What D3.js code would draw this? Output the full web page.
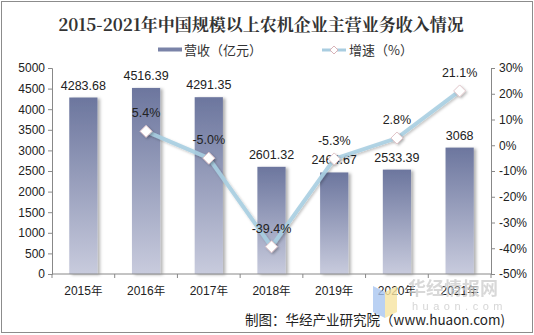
<!DOCTYPE html>
<html><head><meta charset="utf-8">
<script src="https://cdn.jsdelivr.net/npm/d3@7"></script>
<style>body{margin:0;background:#fff}svg{display:block}</style>
</head><body>
<svg id="c" width="534" height="335"></svg>
<script>
const years = ["2015年","2016年","2017年","2018年","2019年","2020年","2021年"];
const revenue = [4283.68, 4516.39, 4291.35, 2601.32, 2464.67, 2533.39, 3068];
const revenueLabels = ["4283.68","4516.39","4291.35","2601.32","2464.67","2533.39","3068"];
const growth = [null, 5.4, -5.0, -39.4, -5.3, 2.8, 21.1];
const growthLabels = ["", "5.4%", "-5.0%", "-39.4%", "-5.3%", "2.8%", "21.1%"];
const leftTicks = [0,500,1000,1500,2000,2500,3000,3500,4000,4500,5000];
const rightTicks = [-50,-40,-30,-20,-10,0,10,20,30];

const svg = d3.select("#c");
const font = "'Liberation Sans', Arial, sans-serif";
const cjk = "'Noto Sans CJK SC', sans-serif";
const L = 52, R = 491, T = 68, B = 274;

const defs = svg.append("defs");
const g = defs.append("linearGradient").attr("id","bg").attr("x1",0).attr("y1",0).attr("x2",0).attr("y2",1);
g.append("stop").attr("offset","0%").attr("stop-color","#6c769e");
g.append("stop").attr("offset","100%").attr("stop-color","#c8cbdd");
const f = defs.append("filter").attr("id","sh").attr("x","-20%").attr("y","-20%").attr("width","150%").attr("height","150%");
f.append("feDropShadow").attr("dx",2.5).attr("dy",1).attr("stdDeviation",1.5).attr("flood-color","#000").attr("flood-opacity",0.3);
const f2 = defs.append("filter").attr("id","sh2").attr("x","-20%").attr("y","-20%").attr("width","150%").attr("height","150%");
f2.append("feDropShadow").attr("dx",1.5).attr("dy",1.5).attr("stdDeviation",1.2).attr("flood-color","#000").attr("flood-opacity",0.25);

svg.append("rect").attr("x",1.5).attr("y",1.5).attr("width",531).attr("height",331)
  .attr("fill","#fff").attr("stroke","#8c8c8c").attr("stroke-width",1);

svg.append("text").attr("x",261).attr("y",31).attr("text-anchor","middle")
  .attr("font-family","'Noto Serif CJK SC','Noto Sans CJK SC',serif").attr("font-weight","bold")
  .attr("font-size",17).attr("fill","#333").text("2015-2021年中国规模以上农机企业主营业务收入情况");

// legend
const lg = svg.append("g").attr("font-family",cjk).attr("font-size",13).attr("fill","#333");
lg.append("rect").attr("x",158).attr("y",47.5).attr("width",24).attr("height",4).attr("fill","#7a83a8");
lg.append("text").attr("x",184).attr("y",55).text("营收（亿元）");
lg.append("line").attr("x1",322).attr("x2",346).attr("y1",50).attr("y2",50).attr("stroke","#a9cde0").attr("stroke-width",3);
lg.append("path").attr("d","M334,46 L338,50 L334,54 L330,50 Z").attr("fill","#fff").attr("stroke","#d9b3b8").attr("stroke-width",1);
lg.append("text").attr("x",349).attr("y",55).text("增速（%）");

const x = d3.scaleBand().domain(years).range([L,R]).paddingInner(0.55).paddingOuter(0.275);
const y = d3.scaleLinear().domain([0,5000]).range([B,T]);
const y2 = d3.scaleLinear().domain([-50,30]).range([B,T]);

// axes
const ax = svg.append("g").attr("transform",`translate(${L},0)`)
  .call(d3.axisLeft(y).tickValues(leftTicks).tickSize(4).tickPadding(3).tickFormat(d3.format("d")));
const ax2 = svg.append("g").attr("transform",`translate(${R},0)`)
  .call(d3.axisRight(y2).tickValues(rightTicks).tickSize(4).tickPadding(4).tickFormat(d=>d+"%"));
[ax,ax2].forEach(a=>{a.select(".domain").attr("stroke","#888");a.selectAll(".tick line").attr("stroke","#888");
  a.selectAll("text").attr("font-family",font).attr("font-size",12).attr("fill","#222");});

// bars
svg.append("g").selectAll("rect").data(revenue).join("rect")
  .attr("x",(d,i)=>x(years[i])).attr("width",x.bandwidth())
  .attr("y",d=>y(d)).attr("height",d=>B-y(d))
  .attr("fill","url(#bg)").attr("filter","url(#sh)");

// x axis
const step = x.step();
const xa = svg.append("g").attr("transform",`translate(0,${B})`);
xa.append("line").attr("x1",L).attr("x2",R).attr("stroke","#888");
const bounds = d3.range(years.length+1).map(i=>L+i*(R-L)/years.length);
xa.selectAll("line.t").data(bounds).join("line").attr("class","t")
  .attr("x1",d=>d).attr("x2",d=>d).attr("y1",0).attr("y2",4).attr("stroke","#888");
xa.selectAll("text").data(years).join("text")
  .attr("x",d=>x(d)+x.bandwidth()/2).attr("y",21).attr("text-anchor","middle")
  .attr("font-family",font).attr("font-size",12).attr("fill","#222")
  .each(function(d){const t=d3.select(this);t.append("tspan").text(d.slice(0,4));t.append("tspan").attr("font-family",cjk).attr("font-size",11.5).text("年");});

// bar labels
svg.append("g").selectAll("text").data(revenue).join("text")
  .attr("x",(d,i)=>x(years[i])+x.bandwidth()/2).attr("y",d=>y(d)-8)
  .attr("text-anchor","middle").attr("font-family",font).attr("font-size",12.5).attr("fill","#222")
  .text((d,i)=>revenueLabels[i]);

// line
const pts = growth.map((v,i)=>({v,i})).filter(p=>p.v!==null);
const line = d3.line().x(p=>x(years[p.i])+x.bandwidth()/2).y(p=>y2(p.v));
svg.append("path").datum(pts).attr("d",line).attr("fill","none")
  .attr("stroke","#a9cfe2").attr("stroke-width",4).attr("stroke-opacity",0.9).attr("filter","url(#sh2)");
svg.append("g").selectAll("path").data(pts).join("path")
  .attr("transform",p=>`translate(${x(years[p.i])+x.bandwidth()/2},${y2(p.v)})`)
  .attr("d","M0,-6 L6,0 L0,6 L-6,0 Z").attr("fill","#fff").attr("stroke","#e0c4c8").attr("stroke-width",1)
  .attr("filter","url(#sh2)");
svg.append("g").selectAll("text").data(pts).join("text")
  .attr("x",p=>x(years[p.i])+x.bandwidth()/2).attr("y",p=>y2(p.v)-14)
  .attr("text-anchor","middle").attr("font-family",font).attr("font-size",12.5).attr("fill","#222")
  .text(p=>growthLabels[p.i]);

// watermark
const wm = svg.append("g");
wm.append("path").attr("d","M373,286 L385,292 L385,318 L373,312 Z").attr("fill","#a9c6f0").attr("opacity",0.8);
wm.append("path").attr("d","M385,292 L397,286 L397,312 L385,318 Z").attr("fill","#f6e3a0").attr("opacity",0.8);
wm.append("text").attr("x",408).attr("y",295).attr("font-family",cjk).attr("font-size",18).attr("font-weight","bold")
  .attr("fill","#ccc").attr("opacity",0.75).text("华经情报网");
wm.append("text").attr("x",412).attr("y",310).attr("font-family",font).attr("font-size",11).attr("letter-spacing",4.5)
  .attr("fill","#ccc").attr("opacity",0.8).text("huaon.com");

svg.append("text").attr("x",505).attr("y",325).attr("text-anchor","end").attr("font-family",cjk).attr("font-size",13.5).attr("fill","#222")
  .text("制图：华经产业研究院（www.huaon.com)");
</script>
</body></html>
